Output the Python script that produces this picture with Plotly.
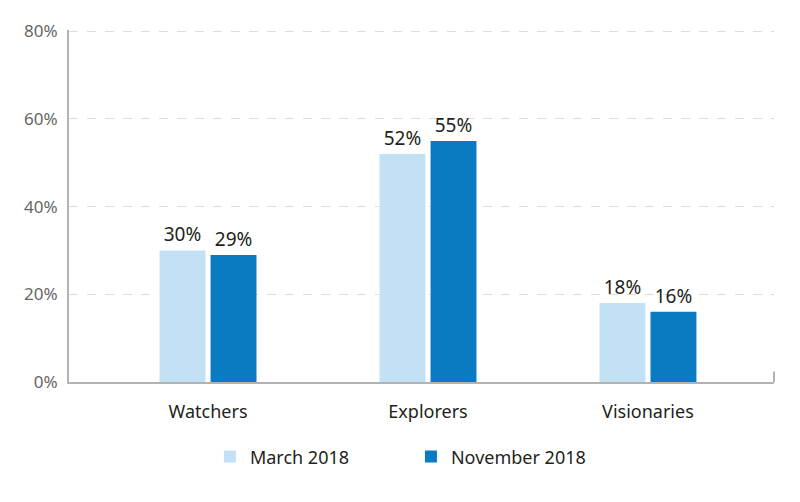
import plotly.graph_objects as go

categories = ["Watchers", "Explorers", "Visionaries"]
march_2018 = [30, 52, 18]
november_2018 = [29, 55, 16]
series_names = ["March 2018", "November 2018"]
y_ticks = [0, 20, 40, 60, 80]
y_tick_labels = [f"{v}%" for v in y_ticks]

colors = ["#c3e1f5", "#0b7bc1"]
font_fam = "Noto Sans, Open Sans, sans-serif"

fig = go.Figure()
for name, vals, col in zip(series_names, [march_2018, november_2018], colors):
    fig.add_trace(go.Bar(
        x=categories, y=vals, name=name, marker=dict(color=col, line=dict(width=0)),
        text=[f"{v}%" for v in vals], textposition="outside", cliponaxis=False,
        textfont=dict(family=font_fam, size=19, color="#231f20"),
    ))

fig.update_layout(
    width=800, height=502,
    margin=dict(l=69, r=26, t=30, b=120),
    paper_bgcolor="white", plot_bgcolor="white",
    barmode="group", bargap=0.536, bargroupgap=0.1,
    font=dict(family=font_fam, color="#333"),
    showlegend=True,
    legend=dict(orientation="h", x=0.485, xanchor="center", y=-0.16, yanchor="top",
                font=dict(size=18, color="#231f20"), entrywidth=156, entrywidthmode="pixels",
                traceorder="normal"),
    uniformtext=dict(mode=False),
)
fig.update_xaxes(
    type="category", range=[-0.632, 2.573],
    showline=True, linecolor="#b3b3b3", linewidth=2,
    ticks="outside", ticklen=12, tickcolor="rgba(0,0,0,0)",
    tickfont=dict(size=18, color="#231f20"),
    showgrid=False, fixedrange=True,
)
fig.update_yaxes(
    range=[0, 80.3], tickmode="array", tickvals=y_ticks, ticktext=y_tick_labels,
    showline=True, linecolor="#b3b3b3", linewidth=2,
    ticks="outside", ticklen=6, tickcolor="rgba(0,0,0,0)",
    tickfont=dict(size=17, color="#666666"),
    showgrid=True, gridcolor="#dddddd", gridwidth=1, griddash="dash",
    zeroline=False,
)
# small end tick at right of x-axis
fig.add_shape(type="line", xref="paper", yref="paper", x0=1, x1=1, y0=0, y1=0.03,
              line=dict(color="#b3b3b3", width=2))

fig.write_html("out.html")
